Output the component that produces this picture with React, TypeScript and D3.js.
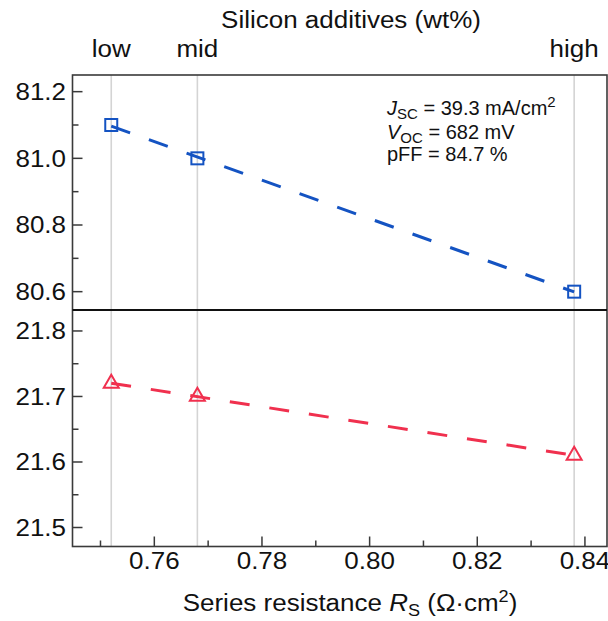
import React from "react";
import * as d3 from "d3";

// Series resistance (Ω·cm²) for the three additive levels
const additiveLevels = ["low", "mid", "high"];
const seriesResistance = [0.752, 0.768, 0.838];
// Fill factor FF (%) — upper panel
const fillFactor = [81.1, 81.0, 80.6];
// Efficiency (%) — lower panel
const efficiency = [21.72, 21.7, 21.61];

const xMajorTicks = [0.76, 0.78, 0.8, 0.82, 0.84];
const xMinorTicks = [0.75, 0.77, 0.79, 0.81, 0.83];
const topMajorTicks = [80.6, 80.8, 81.0, 81.2];
const topMinorTicks = [80.7, 80.9, 81.1];
const botMajorTicks = [21.5, 21.6, 21.7, 21.8];
const botMinorTicks = [21.55, 21.65, 21.75];

const W = 608;
const H = 621;
const left = 72.5;
const right = 607;
const top = 75;
const split = 310;
const bottom = 546.5;

const FONT = "'Liberation Sans', Arial, Helvetica, sans-serif";
const BLUE = "#1453c2";
const RED = "#f0304e";
const AXIS = "#3a3a3a";
// axis typography is set slightly wide
const SX = 1.13;
const AXIS_FONT = 23;

function fitLine(xs: number[], ys: number[]) {
  const mx = d3.mean(xs)!;
  const my = d3.mean(ys)!;
  let num = 0;
  let den = 0;
  xs.forEach((x, i) => {
    num += (x - mx) * (ys[i] - my);
    den += (x - mx) * (x - mx);
  });
  const slope = num / den;
  return (x: number) => my + slope * (x - mx);
}

function WideText({
  x,
  y,
  anchor = "start",
  dy,
  children,
}: {
  x: number;
  y: number;
  anchor?: "start" | "middle" | "end";
  dy?: string;
  children: React.ReactNode;
}) {
  return (
    <g transform={`translate(${x},${y}) scale(${SX},1)`}>
      <text x={0} y={0} dy={dy} fontSize={AXIS_FONT} textAnchor={anchor} fill="#111">
        {children}
      </text>
    </g>
  );
}

export default function App() {
  const x = d3.scaleLinear().domain([0.7448, 0.8441]).range([left, right]);
  const yTop = d3.scaleLinear().domain([80.545, 81.25]).range([split, top]);
  const yBot = d3.scaleLinear().domain([21.471, 21.832]).range([bottom, split]);

  const topFit = fitLine(seriesResistance, fillFactor);
  const botFit = fitLine(seriesResistance, efficiency);
  const x0 = seriesResistance[0];
  const x1 = seriesResistance[seriesResistance.length - 1];
  const line = d3
    .line<[number, number]>()
    .x((d) => d[0])
    .y((d) => d[1]);

  const topPath = line([
    [x(x0), yTop(topFit(x0))],
    [x(x1), yTop(topFit(x1))],
  ]);
  const botPath = line([
    [x(x0), yBot(botFit(x0))],
    [x(x1), yBot(botFit(x1))],
  ]);

  const sq = 12;
  const triW = 15;
  const triH = 13;

  return (
    <svg
      width={W}
      height={H}
      style={{ position: "absolute", left: 0, top: 0, background: "#fff" }}
      fontFamily={FONT}
    >
      {/* vertical guides at each additive level */}
      {seriesResistance.map((v, i) => (
        <line
          key={"g" + i}
          x1={x(v)}
          x2={x(v)}
          y1={top}
          y2={bottom}
          stroke="#d4d4d4"
          strokeWidth={1.6}
        />
      ))}

      {/* top category labels */}
      <WideText x={351} y={28} anchor="middle">
        Silicon additives (wt%)
      </WideText>
      {additiveLevels.map((lab, i) => (
        <WideText key={lab} x={x(seriesResistance[i])} y={56.5} anchor="middle">
          {lab}
        </WideText>
      ))}

      {/* fit lines */}
      <path
        d={topPath ?? ""}
        fill="none"
        stroke={BLUE}
        strokeWidth={3}
        strokeDasharray="20 20"
      />
      <path
        d={botPath ?? ""}
        fill="none"
        stroke={RED}
        strokeWidth={3}
        strokeDasharray="20 20"
      />

      {/* markers */}
      {seriesResistance.map((v, i) => (
        <rect
          key={"s" + i}
          x={x(v) - sq / 2}
          y={yTop(fillFactor[i]) - sq / 2}
          width={sq}
          height={sq}
          fill="none"
          stroke={BLUE}
          strokeWidth={2}
        />
      ))}
      {seriesResistance.map((v, i) => {
        const cx = x(v);
        const cy = yBot(efficiency[i]);
        const pts = [
          [cx, cy - (triH * 2) / 3],
          [cx - triW / 2, cy + triH / 3],
          [cx + triW / 2, cy + triH / 3],
        ];
        return (
          <polygon
            key={"t" + i}
            points={pts.map((p) => p.join(",")).join(" ")}
            fill="none"
            stroke={RED}
            strokeWidth={2}
          />
        );
      })}

      {/* frame */}
      <rect
        x={left}
        y={top}
        width={right - left}
        height={bottom - top}
        fill="none"
        stroke={AXIS}
        strokeWidth={1.6}
      />
      <line x1={left} x2={right} y1={split} y2={split} stroke="#111" strokeWidth={1.8} />

      {/* y ticks: upper panel */}
      {topMajorTicks.map((t) => (
        <g key={"tm" + t}>
          <line x1={left} x2={left + 10} y1={yTop(t)} y2={yTop(t)} stroke={AXIS} strokeWidth={1.5} />
          <WideText x={66} y={yTop(t)} dy="0.36em" anchor="end">
            {t.toFixed(1)}
          </WideText>
        </g>
      ))}
      {topMinorTicks.map((t) => (
        <line key={"tn" + t} x1={left} x2={left + 6} y1={yTop(t)} y2={yTop(t)} stroke={AXIS} strokeWidth={1.5} />
      ))}

      {/* y ticks: lower panel */}
      {botMajorTicks.map((t) => (
        <g key={"bm" + t}>
          <line x1={left} x2={left + 10} y1={yBot(t)} y2={yBot(t)} stroke={AXIS} strokeWidth={1.5} />
          <WideText x={66} y={yBot(t)} dy="0.36em" anchor="end">
            {t.toFixed(1)}
          </WideText>
        </g>
      ))}
      {botMinorTicks.map((t) => (
        <line key={"bn" + t} x1={left} x2={left + 6} y1={yBot(t)} y2={yBot(t)} stroke={AXIS} strokeWidth={1.5} />
      ))}

      {/* x ticks */}
      {xMajorTicks.map((t) => (
        <g key={"xm" + t}>
          <line x1={x(t)} x2={x(t)} y1={bottom} y2={bottom - 10} stroke={AXIS} strokeWidth={1.5} />
          <WideText x={x(t)} y={568.5} anchor="middle">
            {t.toFixed(2)}
          </WideText>
        </g>
      ))}
      {xMinorTicks.map((t) => (
        <line key={"xn" + t} x1={x(t)} x2={x(t)} y1={bottom} y2={bottom - 6} stroke={AXIS} strokeWidth={1.5} />
      ))}

      {/* x axis title */}
      <WideText x={350} y={610.5} anchor="middle">
        Series resistance{" "}
        <tspan fontStyle="italic">R</tspan>
        <tspan fontSize={16} dy={5}>S</tspan>
        <tspan dy={-5}> (Ω·cm</tspan>
        <tspan fontSize={16} dy={-9}>2</tspan>
        <tspan dy={9}>)</tspan>
      </WideText>

      {/* device parameters */}
      <g fontSize={20} fill="#111">
        <text x={387} y={115}>
          <tspan fontStyle="italic">J</tspan>
          <tspan fontSize={15} dy={4}>SC</tspan>
          <tspan dy={-4}> = 39.3 mA/cm</tspan>
          <tspan fontSize={15} dy={-8}>2</tspan>
        </text>
        <text x={387} y={138.5}>
          <tspan fontStyle="italic">V</tspan>
          <tspan fontSize={15} dy={4}>OC</tspan>
          <tspan dy={-4}> = 682 mV</tspan>
        </text>
        <text x={387} y={161}>
          pFF = 84.7 %
        </text>
      </g>
    </svg>
  );
}
